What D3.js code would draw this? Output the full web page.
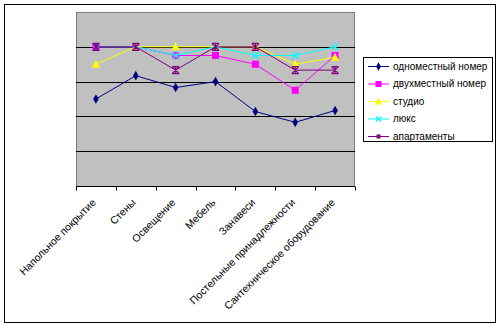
<!DOCTYPE html>
<html><head><meta charset="utf-8">
<script src="https://cdn.jsdelivr.net/npm/d3@7"></script>
<style>body{margin:0;background:#fff}svg{display:block}text{font-family:"Liberation Sans",Arial,sans-serif;font-size:10.5px}</style>
</head><body><svg id="c" width="500" height="327"></svg>
<script>
const categories = ["Напольное покрытие","Стены","Освещение","Мебель","Занавеси","Постельные принадлежности","Сантехническое оборудование"];
const seriesNames = ["одноместный номер","двухместный номер","студио","люкс","апартаменты"];
const single = [2.5, 3.17, 2.83, 3.0, 2.14, 1.83, 2.17];
const double = [4.0, 4.0, 3.75, 3.75, 3.5, 2.75, 3.75];
const studio = [3.5, 4.0, 4.0, 4.0, 4.0, 3.5, 3.7];
const lux = [4.0, 4.0, 3.75, 4.0, 3.75, 3.75, 4.0];
const apart = [4.0, 4.0, 3.33, 4.0, 4.0, 3.33, 3.33];
const yTicks = [0,1,2,3,4,5];
const colors = ["#000080","#ff00ff","#ffff00","#00ffff","#800080"];
const symbols = ["diamond","square","triangle","x","star"];
const values = [single,double,studio,lux,apart];

const svg = d3.select("#c");
svg.append("rect").attr("x",4.5).attr("y",4.5).attr("width",491).attr("height",318).attr("fill","#fff").attr("stroke","#000");
const L=76,R=355,T=12,B=186;
const x = d3.scalePoint().domain(categories).range([L,R]).padding(0.5);
const xb = d3.scaleBand().domain(categories).range([L,R]);
const y = d3.scaleLinear().domain([0,5]).range([B,T]);

svg.append("rect").attr("x",L+0.5).attr("y",T+0.5).attr("width",R-L-1).attr("height",B-T).attr("fill","#c0c0c0").attr("stroke","#808080");
svg.append("g").selectAll("line").data(yTicks.filter(d=>d>0&&d<5)).join("line")
 .attr("x1",L).attr("x2",R).attr("y1",d=>Math.round(y(d))+0.5).attr("y2",d=>Math.round(y(d))+0.5).attr("stroke","#000");

const ax = svg.append("g").attr("transform",`translate(0,${B+0.5})`);
ax.append("line").attr("x1",L).attr("x2",R).attr("stroke","#000");
const bounds = categories.map(c=>xb(c)).concat([R]);
ax.selectAll("line.t").data(bounds).join("line").attr("class","t")
 .attr("x1",d=>Math.round(d)+0.5).attr("x2",d=>Math.round(d)+0.5).attr("y1",0).attr("y2",4).attr("stroke","#000");
ax.selectAll("text").data(categories).join("text")
 .attr("text-anchor","end")
 .attr("transform",d=>`translate(${x(d)-2},${14}) rotate(-45)`)
 .attr("dy","0.35em").text(d=>d);

function marker(g,type,color,size){
  if(type==="diamond"){g.append("path").attr("d",d3.symbol(d3.symbolDiamond,size*size*0.55)()).attr("fill",color);}
  else if(type==="square"){g.append("rect").attr("x",-size/2).attr("y",-size/2).attr("width",size).attr("height",size).attr("fill",color);}
  else if(type==="triangle"){g.append("path").attr("d",`M0,${-size/2-1}L${size/2+0.5},${size/2}L${-size/2-0.5},${size/2}Z`).attr("fill",color);}
  else if(type==="x"){const s=size/2;g.append("path").attr("d",`M${-s},${-s}L${s},${s}M${s},${-s}L${-s},${s}`).attr("stroke",color).attr("stroke-width",1.2);}
  else if(type==="star"){const s=size/2;g.append("path").attr("d",`M${-s},${-s}L${s},${s}M${s},${-s}L${-s},${s}M0,${-s}L0,${s}M${-s},${-s}L${s},${-s}M${-s},${s}L${s},${s}`).attr("stroke",color).attr("stroke-width",1.2);}
}
const line = d3.line().x((d,i)=>x(categories[i])).y(d=>y(d));
values.forEach((vals,k)=>{
  const g = svg.append("g");
  g.append("path").attr("d",line(vals)).attr("fill","none").attr("stroke",colors[k]).attr("stroke-width",1);
  vals.forEach((v,i)=>{
    const m = g.append("g").attr("transform",`translate(${x(categories[i])},${y(v)})`);
    marker(m,symbols[k],colors[k],7);
  });
});

const lg = svg.append("g");
lg.append("rect").attr("x",363.5).attr("y",57.5).attr("width",129).attr("height",84).attr("fill","#fff").attr("stroke","#000");
seriesNames.forEach((n,k)=>{
  const yy = 66 + k*17.5;
  const g = lg.append("g").attr("transform",`translate(0,${yy})`);
  g.append("line").attr("x1",368).attr("x2",389).attr("y1",0.5).attr("y2",0.5).attr("stroke",colors[k]);
  const m = g.append("g").attr("transform","translate(378.5,0.5)");
  marker(m,k===4?"square":symbols[k],colors[k],k===4?4:(k===3?5:6));
  g.append("text").attr("x",393).attr("y",0).attr("dy","0.35em").style("font-size","10px").attr("textLength",null).text(n);
});
</script></body></html>
